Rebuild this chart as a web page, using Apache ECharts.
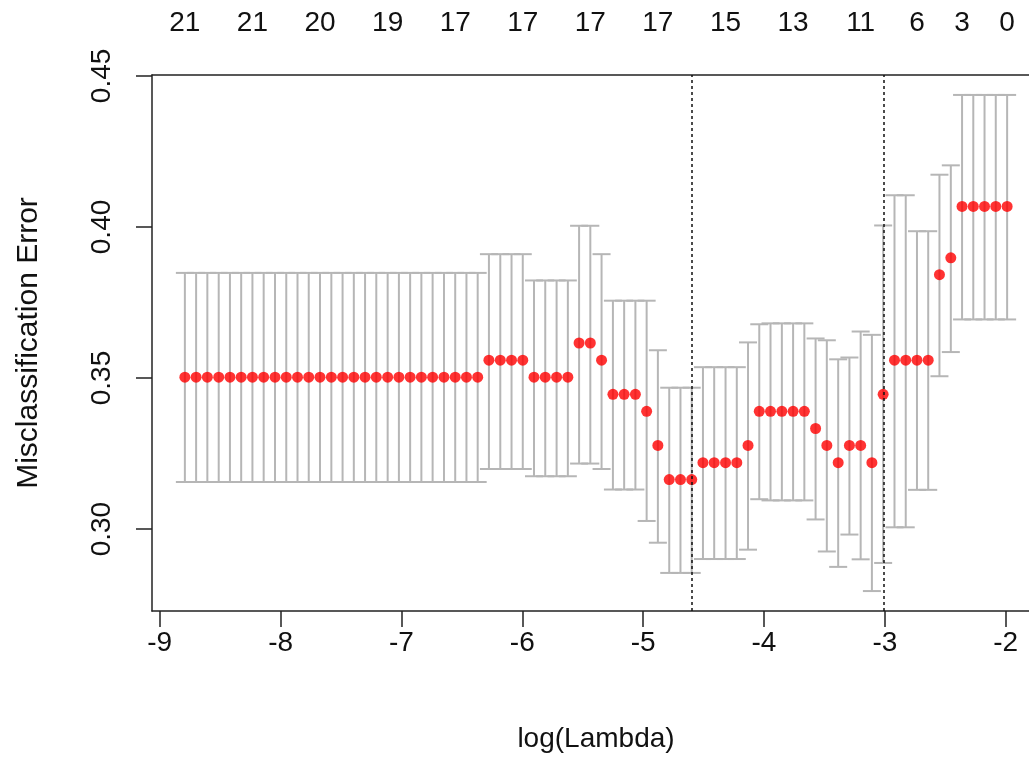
<!DOCTYPE html>
<html>
<head>
<meta charset="utf-8">
<title>cv.glmnet misclassification error</title>
<script src="https://cdn.jsdelivr.net/npm/echarts@6/dist/echarts.min.js"></script>
<style>
  html, body { margin: 0; padding: 0; background: #fff; overflow: hidden; }
  /* plot box runs past the right edge of the window, as in the cropped original */
  #chart { width: 1060px; height: 761px; }
</style>
</head>
<body>
<div id="chart"></div>
<script>
// log(lambda) of each fit, left to right
const logLambda = [
  -8.792, -8.699, -8.606, -8.512, -8.419, -8.326, -8.233, -8.140, -8.046, -7.953,
  -7.860, -7.767, -7.674, -7.580, -7.487, -7.394, -7.301, -7.208, -7.114, -7.021,
  -6.928, -6.835, -6.742, -6.648, -6.555, -6.462, -6.369, -6.276, -6.182, -6.089,
  -5.996, -5.903, -5.810, -5.716, -5.623, -5.530, -5.437, -5.344, -5.250, -5.157,
  -5.064, -4.971, -4.878, -4.784, -4.691, -4.598, -4.505, -4.412, -4.318, -4.225,
  -4.132, -4.039, -3.946, -3.852, -3.759, -3.666, -3.573, -3.480, -3.386, -3.293,
  -3.200, -3.107, -3.014, -2.920, -2.827, -2.734, -2.641, -2.548, -2.454, -2.361,
  -2.268, -2.175, -2.082, -1.988
];
// mean cv misclassification error
const cvm = [
  0.3503, 0.3503, 0.3503, 0.3503, 0.3503, 0.3503, 0.3503, 0.3503, 0.3503, 0.3503,
  0.3503, 0.3503, 0.3503, 0.3503, 0.3503, 0.3503, 0.3503, 0.3503, 0.3503, 0.3503,
  0.3503, 0.3503, 0.3503, 0.3503, 0.3503, 0.3503, 0.3503, 0.3559, 0.3559, 0.3559,
  0.3559, 0.3503, 0.3503, 0.3503, 0.3503, 0.3616, 0.3616, 0.3559, 0.3446, 0.3446,
  0.3446, 0.3390, 0.3277, 0.3164, 0.3164, 0.3164, 0.3220, 0.3220, 0.3220, 0.3220,
  0.3277, 0.3390, 0.3390, 0.3390, 0.3390, 0.3390, 0.3333, 0.3277, 0.3220, 0.3277,
  0.3277, 0.3220, 0.3446, 0.3559, 0.3559, 0.3559, 0.3559, 0.3842, 0.3898, 0.4068,
  0.4068, 0.4068, 0.4068, 0.4068
];
// upper end of the error bar
const cvup = [
  0.3848, 0.3848, 0.3848, 0.3848, 0.3848, 0.3848, 0.3848, 0.3848, 0.3848, 0.3848,
  0.3848, 0.3848, 0.3848, 0.3848, 0.3848, 0.3848, 0.3848, 0.3848, 0.3848, 0.3848,
  0.3848, 0.3848, 0.3848, 0.3848, 0.3848, 0.3848, 0.3848, 0.3910, 0.3910, 0.3910,
  0.3910, 0.3823, 0.3823, 0.3823, 0.3823, 0.4004, 0.4004, 0.3910, 0.3756, 0.3756,
  0.3756, 0.3756, 0.3592, 0.3468, 0.3468, 0.3468, 0.3536, 0.3536, 0.3536, 0.3536,
  0.3618, 0.3678, 0.3681, 0.3681, 0.3681, 0.3681, 0.3631, 0.3625, 0.3562, 0.3568,
  0.3654, 0.3643, 0.4005, 0.4105, 0.4105, 0.3986, 0.3986, 0.4173, 0.4204, 0.4437,
  0.4437, 0.4437, 0.4437, 0.4437
];
// lower end of the error bar
const cvlo = [
  0.3156, 0.3156, 0.3156, 0.3156, 0.3156, 0.3156, 0.3156, 0.3156, 0.3156, 0.3156,
  0.3156, 0.3156, 0.3156, 0.3156, 0.3156, 0.3156, 0.3156, 0.3156, 0.3156, 0.3156,
  0.3156, 0.3156, 0.3156, 0.3156, 0.3156, 0.3156, 0.3156, 0.3199, 0.3199, 0.3199,
  0.3199, 0.3175, 0.3175, 0.3175, 0.3175, 0.3217, 0.3217, 0.3199, 0.3131, 0.3131,
  0.3131, 0.3027, 0.2955, 0.2855, 0.2855, 0.2855, 0.2901, 0.2901, 0.2901, 0.2901,
  0.2932, 0.3099, 0.3095, 0.3095, 0.3095, 0.3095, 0.3032, 0.2926, 0.2875, 0.2982,
  0.2900, 0.2795, 0.2888, 0.3006, 0.3006, 0.3130, 0.3130, 0.3506, 0.3586, 0.3694,
  0.3694, 0.3694, 0.3694, 0.3694
];

// number of nonzero coefficients shown along the top
const topLabelLambda = [-8.792, -8.233, -7.674, -7.114, -6.555, -5.996, -5.437,
  -4.878, -4.318, -3.759, -3.200, -2.734, -2.361, -1.988];
const topLabels = ['21', '21', '20', '19', '17', '17', '17', '17', '15', '13', '11', '6', '3', '0'];

const xTicks = [-9, -8, -7, -6, -5, -4, -3, -2];
const yTicks = [0.30, 0.35, 0.40, 0.45];

// lambda.min and lambda.1se
const lambdaMin = -4.598;
const lambda1se = -3.014;

const font = '"Liberation Sans", Arial, Helvetica, sans-serif';
const fs = 28;

const chart = echarts.init(document.getElementById('chart'));

const barData = logLambda.map((x, i) => [x, cvup[i], cvlo[i]]);
const pointData = logLambda.map((x, i) => [x, cvm[i]]);

chart.setOption({
  animation: false,
  backgroundColor: '#fff',
  grid: { left: 152, top: 75, width: 888, height: 536 },
  xAxis: [{
    type: 'value',
    min: -9.064,
    max: -1.716,
    name: 'log(Lambda)',
    nameLocation: 'middle',
    nameGap: 114,
    nameTextStyle: { fontFamily: font, fontSize: fs, color: '#111' },
    axisLine: { show: true, onZero: false, lineStyle: { color: '#222', width: 1.5 } },
    axisTick: { show: true, length: 16, customValues: xTicks, lineStyle: { color: '#222', width: 1.5 } },
    axisLabel: { customValues: xTicks, margin: 18, fontFamily: font, fontSize: fs, color: '#111' },
    splitLine: { show: false }
  }, {
    type: 'value',
    position: 'top',
    min: -9.064,
    max: -1.716,
    axisLine: { show: true, onZero: false, lineStyle: { color: '#222', width: 1.5 } },
    axisTick: { show: false },
    axisLabel: {
      customValues: topLabelLambda,
      margin: 38,
      fontFamily: font, fontSize: fs, color: '#111',
      formatter: (v) => {
        let best = 0;
        topLabelLambda.forEach((t, i) => {
          if (Math.abs(t - v) < Math.abs(topLabelLambda[best] - v)) best = i;
        });
        return topLabels[best];
      }
    },
    splitLine: { show: false }
  }],
  yAxis: {
    type: 'value',
    min: 0.2729,
    max: 0.4503,
    name: 'Misclassification Error',
    nameLocation: 'middle',
    nameGap: 108,
    nameTextStyle: { fontFamily: font, fontSize: 30, color: '#111' },
    axisLine: { show: true, onZero: false, lineStyle: { color: '#222', width: 1.5 } },
    axisTick: { show: true, length: 16, customValues: yTicks, lineStyle: { color: '#222', width: 1.5 } },
    axisLabel: {
      customValues: yTicks,
      rotate: 90,
      margin: 36,
      fontFamily: font, fontSize: fs, color: '#111',
      formatter: (v) => v.toFixed(2)
    },
    splitLine: { show: false }
  },
  series: [{
    type: 'custom',
    data: barData,
    encode: { x: 0, y: [1, 2] },
    renderItem: (params, api) => {
      const x = api.value(0);
      const top = api.coord([x, api.value(1)]);
      const bot = api.coord([x, api.value(2)]);
      const w = 9;
      const style = { stroke: '#b6b6b6', lineWidth: 2 };
      return {
        type: 'group',
        children: [
          { type: 'line', shape: { x1: top[0], y1: top[1], x2: bot[0], y2: bot[1] }, style },
          { type: 'line', shape: { x1: top[0] - w, y1: top[1], x2: top[0] + w, y2: top[1] }, style },
          { type: 'line', shape: { x1: bot[0] - w, y1: bot[1], x2: bot[0] + w, y2: bot[1] }, style }
        ]
      };
    },
    z: 1
  }, {
    type: 'scatter',
    data: pointData,
    symbol: 'circle',
    symbolSize: 11,
    itemStyle: { color: '#ff0000' },
    z: 3,
    markLine: {
      silent: true,
      symbol: ['none', 'none'],
      label: { show: false },
      lineStyle: { color: '#111', type: [3, 3], width: 1.5 },
      data: [{ xAxis: lambdaMin }, { xAxis: lambda1se }]
    }
  }]
});
</script>
</body>
</html>
